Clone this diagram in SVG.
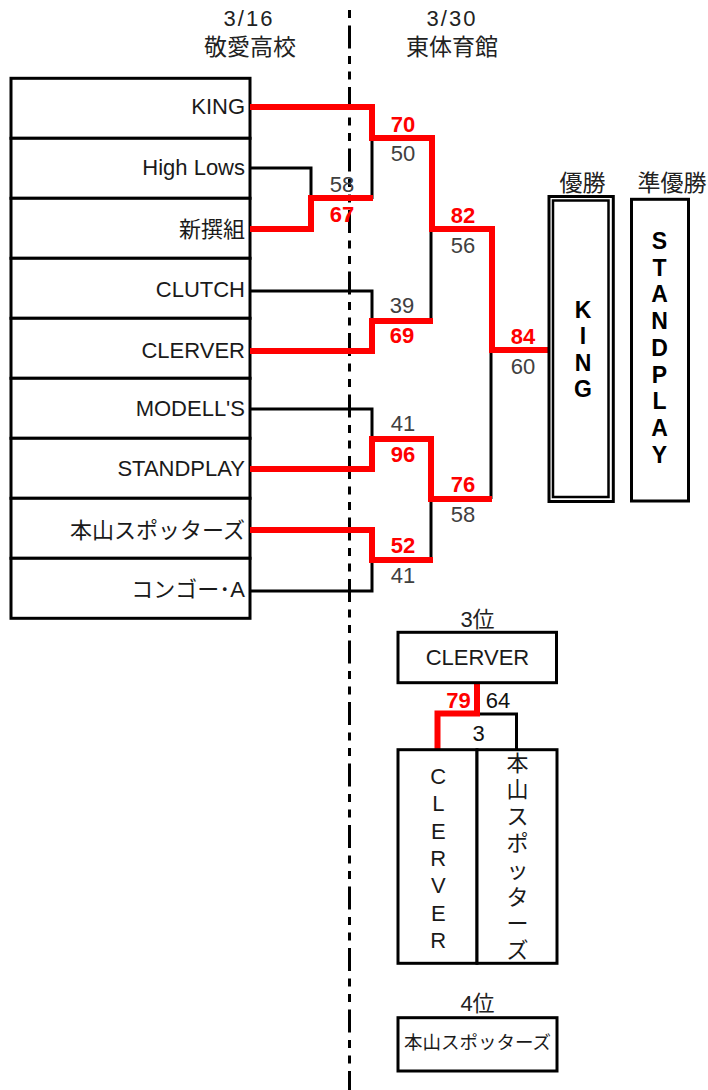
<svg xmlns="http://www.w3.org/2000/svg" width="708" height="1090" viewBox="0 0 708 1090">
<style>
text{font-family:"Liberation Sans","Noto Sans CJK JP",sans-serif;fill:#1a1a1a}
.box{fill:#fff;stroke:#000;stroke-width:3}
.team{font-size:22px;text-anchor:end}
.hdr{font-size:22px;text-anchor:middle;fill:#222}
.hdrj{font-size:23px;text-anchor:middle;fill:#222}
.sc{font-size:22px;text-anchor:middle;fill:#404040}
.win{font-size:22px;text-anchor:middle;fill:#ff0000;font-weight:bold}
.blk{fill:none;stroke:#000;stroke-width:3}
.red{fill:none;stroke:#ff0000;stroke-width:6;stroke-linejoin:miter}
.vt{font-size:23px;text-anchor:middle;font-weight:bold;fill:#000}
.vn{font-size:22px;text-anchor:middle;fill:#1a1a1a}
.small{font-size:18.5px;text-anchor:middle;fill:#1a1a1a}
</style>

<line x1="349.5" y1="10" x2="349.5" y2="1090" stroke="#000" stroke-width="3" stroke-dasharray="8 7.5 23 7.5 8 7.5"/>

<g id="headers">
<text class="hdr" x="249" y="26" letter-spacing="2">3/16</text>
<text class="hdrj" x="250" y="55">敬愛高校</text>
<text class="hdr" x="452" y="26" letter-spacing="2">3/30</text>
<text class="hdrj" x="452" y="55">東体育館</text>
</g>

<g id="team-king"><rect class="box" x="11" y="78.3" width="239" height="60"/><text class="team" x="245" y="114">KING</text></g>
<g id="team-highlows"><rect class="box" x="11" y="138.3" width="239" height="60"/><text class="team" x="245" y="175">High Lows</text></g>
<g id="team-shinsengumi"><rect class="box" x="11" y="198.3" width="239" height="60"/><text class="team" x="245" y="237">新撰組</text></g>
<g id="team-clutch"><rect class="box" x="11" y="258.3" width="239" height="60"/><text class="team" x="245" y="297">CLUTCH</text></g>
<g id="team-clerver"><rect class="box" x="11" y="318.3" width="239" height="60"/><text class="team" x="245" y="358">CLERVER</text></g>
<g id="team-modells"><rect class="box" x="11" y="378.3" width="239" height="60"/><text class="team" x="245" y="416">MODELL'S</text></g>
<g id="team-standplay"><rect class="box" x="11" y="438.3" width="239" height="60"/><text class="team" x="245" y="476">STANDPLAY</text></g>
<g id="team-motoyama"><rect class="box" x="11" y="498.3" width="239" height="60"/><text class="team" x="245" y="538">本山スポッターズ</text></g>
<g id="team-congo"><rect class="box" x="11" y="558.3" width="239" height="60"/><text class="team" x="245" y="597">コンゴー･A</text></g>

<g id="connectors">
<path class="blk" d="M250,168 H311 V198"/>
<path class="blk" d="M372,138 V199"/>
<path class="blk" d="M250,291 H372 V321"/>
<path class="blk" d="M431,229 V321"/>
<path class="blk" d="M491,350 V499"/>
<path class="blk" d="M250,409 H372 V438"/>
<path class="blk" d="M431,499 V560"/>
<path class="blk" d="M250,591 H372 V560"/>
<path class="blk" d="M480,714 H516.5 V750"/>
<path class="red" d="M250,107 H372 V138 H432 V229 H492 V350 H548"/>
<path class="red" d="M250,229 H311 V198 H373"/>
<path class="red" d="M250,351 H372 V321 H433"/>
<path class="red" d="M250,469 H372 V439 H431 V499 H492"/>
<path class="red" d="M250,530 H372 V560 H433"/>
<path class="red" d="M477,683 V713.5 H437.5 V750"/>
</g>

<g id="scores">
<text class="sc" x="342" y="191.5">58</text>
<text class="win" x="342" y="221.5">67</text>
<text class="win" x="403" y="131.5">70</text>
<text class="sc" x="403" y="161">50</text>
<text class="win" x="463" y="222.5">82</text>
<text class="sc" x="463" y="253">56</text>
<text class="sc" x="402" y="313">39</text>
<text class="win" x="402" y="343">69</text>
<text class="win" x="523" y="343.5">84</text>
<text class="sc" x="523" y="373.5">60</text>
<text class="sc" x="403" y="431">41</text>
<text class="win" x="403" y="461.5">96</text>
<text class="win" x="463" y="492">76</text>
<text class="sc" x="463" y="522">58</text>
<text class="win" x="403" y="553">52</text>
<text class="sc" x="403" y="583">41</text>
<text class="win" x="458.5" y="708">79</text>
<text class="sc" x="498" y="708" style="fill:#111">64</text>
<text class="sc" x="478.5" y="740.5" style="fill:#111">3</text>
</g>

<g id="champion">
<text class="hdrj" x="582.5" y="191">優勝</text>
<rect x="549" y="196.5" width="64.3" height="305" fill="#fff" stroke="#000" stroke-width="3"/>
<rect x="553" y="200.5" width="55.5" height="296.5" fill="none" stroke="#000" stroke-width="2.5"/>
<text class="vt"><tspan x="583" y="317.5">K</tspan><tspan x="583" y="344">I</tspan><tspan x="583" y="370.5">N</tspan><tspan x="583" y="397">G</tspan></text>
</g>

<g id="runnerup">
<text class="hdrj" x="672" y="191">準優勝</text>
<rect class="box" x="631.5" y="199.3" width="57" height="301.7"/>
<text class="vt"><tspan x="659.5" y="249">S</tspan><tspan x="659.5" y="275.7">T</tspan><tspan x="659.5" y="302.4">A</tspan><tspan x="659.5" y="329.1">N</tspan><tspan x="659.5" y="355.8">D</tspan><tspan x="659.5" y="382.5">P</tspan><tspan x="659.5" y="409.2">L</tspan><tspan x="659.5" y="435.9">A</tspan><tspan x="659.5" y="462.6">Y</tspan></text>
</g>

<g id="third">
<text class="hdr" x="477.5" y="626.5">3位</text>
<rect class="box" x="398" y="632.3" width="158.5" height="50.4"/>
<text class="vn" x="477.5" y="665">CLERVER</text>
</g>

<g id="third-match-clerver">
<rect class="box" x="398" y="749.7" width="79" height="213.6"/>
<text class="vn"><tspan x="438.3" y="784">C</tspan><tspan x="438.3" y="811.3">L</tspan><tspan x="438.3" y="838.7">E</tspan><tspan x="438.3" y="866">R</tspan><tspan x="438.3" y="893.3">V</tspan><tspan x="438.3" y="920.7">E</tspan><tspan x="438.3" y="948">R</tspan></text>
</g>
<g id="third-match-motoyama">
<rect class="box" x="477" y="749.7" width="80" height="213.6"/>
<text class="vn"><tspan x="517.5" y="770.5">本</tspan><tspan x="517.5" y="797.3">山</tspan><tspan x="517.5" y="824.1">ス</tspan><tspan x="517.5" y="850.9">ポ</tspan><tspan x="517.5" y="877.7">ッ</tspan><tspan x="517.5" y="904.5">タ</tspan><tspan x="517.5" y="931.3">ー</tspan><tspan x="517.5" y="958.1">ズ</tspan></text>
</g>

<g id="fourth">
<text class="hdr" x="477.5" y="1011">4位</text>
<rect class="box" x="398" y="1017.7" width="159" height="53.3"/>
<text class="small" x="477.5" y="1049">本山スポッターズ</text>
</g>
</svg>
